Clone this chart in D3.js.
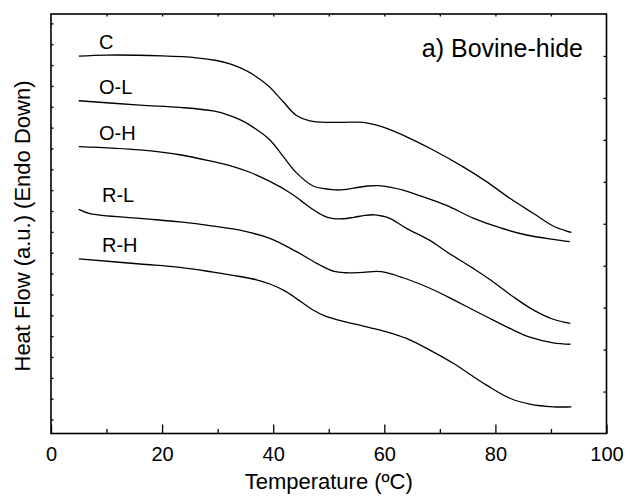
<!DOCTYPE html>
<html>
<head>
<meta charset="utf-8">
<script src="https://cdn.jsdelivr.net/npm/d3@7"></script>
<style>
body { margin: 0; background: #fff; }
text { font-family: Arial, "Liberation Sans", sans-serif; fill: #000; }
</style>
</head>
<body>
<svg id="dsc"></svg>
<script>
// DSC curves, temperature (C) vs heat flow (arbitrary units, offset per sample)
var sampleNames = ["C", "O-L", "O-H", "R-L", "R-H"];

var curveC = [[5.0,17.43],[10.0,17.48],[20.0,17.44],[26.2,17.35],[29.8,17.22],[32.2,17.06],[34.0,16.88],
  [35.8,16.64],[37.6,16.32],[39.4,15.94],[41.8,15.24],[44.2,14.58],[46.6,14.32],[50.2,14.25],[54.0,14.26],
  [56.2,14.25],[59.8,14.02],[64.0,13.56],[68.2,13.01],[74.2,12.12],[78.4,11.41],[82.6,10.61],[86.8,9.89],
  [90.4,9.28],[92.8,9.04],[93.7,8.98]];

var curveOL = [[5.0,15.29],[16.0,15.08],[23.2,14.97],[29.2,14.80],[32.2,14.58],[34.0,14.38],[35.8,14.12],
  [39.4,13.41],[41.8,12.62],[44.2,11.83],[47.2,11.20],[50.2,11.04],[52.0,11.01],[54.5,11.10],[57.0,11.20],
  [59.0,11.22],[61.0,11.15],[63.4,11.00],[67.3,10.65],[71.2,10.27],[76.0,9.66],[80.8,9.20],[85.6,8.85],
  [90.4,8.64],[93.4,8.53]];

var curveOH = [[5.0,13.09],[16.0,12.93],[23.2,12.70],[29.2,12.37],[32.2,12.18],[35.8,11.86],[39.4,11.42],
  [43.0,10.88],[45.0,10.50],[47.0,10.10],[49.0,9.78],[50.6,9.65],[52.6,9.63],[54.5,9.70],[56.5,9.79],
  [58.3,9.82],[59.8,9.75],[61.0,9.65],[64.0,9.17],[68.2,8.59],[71.2,8.05],[76.0,7.25],[79.0,6.72],
  [83.2,5.89],[86.8,5.26],[90.4,4.81],[93.5,4.61]];

var curveRL = [[5.0,10.08],[7.0,9.88],[16.0,9.65],[23.2,9.48],[29.2,9.28],[34.0,9.08],[39.4,8.69],
  [44.2,8.05],[48.4,7.41],[51.0,7.10],[53.0,7.04],[56.2,7.06],[58.6,7.11],[60.4,7.05],[63.4,6.80],
  [66.4,6.50],[69.0,6.20],[72.4,5.75],[78.4,4.93],[82.6,4.37],[86.2,3.95],[90.4,3.68],[93.5,3.61]];

var curveRH = [[5.0,7.71],[16.0,7.46],[23.2,7.30],[29.2,7.07],[34.0,6.86],[37.0,6.70],[39.4,6.50],
  [42.0,6.18],[44.2,5.80],[47.0,5.28],[49.5,4.95],[51.6,4.78],[56.2,4.48],[60.4,4.21],[64.0,3.89],
  [68.2,3.33],[72.4,2.70],[78.4,1.65],[82.6,1.02],[86.2,0.74],[90.4,0.61],[93.7,0.61]];

var xTickLabels = [0, 20, 40, 60, 80, 100];
var chartTitle = "a) Bovine-hide";

var allCurves = [curveC, curveOL, curveOH, curveRL, curveRH];

var size = {width: 630, height: 498};
var margin = {top: 14, right: 23.5, bottom: 64.5, left: 51};
var plotW = size.width - margin.left - margin.right;
var plotH = size.height - margin.top - margin.bottom;

var svg = d3.select("#dsc")
  .attr("width", size.width)
  .attr("height", size.height);

var x = d3.scaleLinear().domain([0, 100]).range([margin.left, margin.left + plotW]);
var y = d3.scaleLinear().domain([-0.67, 19.45]).range([margin.top + plotH, margin.top]);

// bottom axis: long ticks with labels every 20, short ticks every 10
svg.append("g")
  .attr("transform", "translate(0," + (margin.top + plotH) + ")")
  .call(d3.axisBottom(x).tickValues(d3.range(10, 100, 20)).tickSize(-4.5).tickSizeOuter(0).tickFormat(""))
  .call(function(g){ g.select(".domain").remove(); });

var bottomAxis = svg.append("g")
  .attr("transform", "translate(0," + (margin.top + plotH) + ")")
  .call(d3.axisBottom(x).tickValues(xTickLabels).tickSize(-9).tickSizeOuter(0).tickPadding(13))
  .call(function(g){ g.select(".domain").remove(); });
bottomAxis.selectAll("text")
  .style("font-size", "20px")
  .style("font-family", "Arial, 'Liberation Sans', sans-serif")
  .attr("dy", "0.71em");

// top axis: small inward ticks every 10
svg.append("g")
  .attr("transform", "translate(0," + margin.top + ")")
  .call(d3.axisTop(x).tickValues(d3.range(10, 100, 10)).tickSize(-2.5).tickSizeOuter(0).tickFormat(""))
  .call(function(g){ g.select(".domain").remove(); });

// left axis: small inward ticks, no labels
svg.append("g")
  .attr("transform", "translate(" + margin.left + ",0)")
  .call(d3.axisLeft(y).tickValues(d3.range(0, 20)).tickSize(-2.5).tickSizeOuter(0).tickFormat(""))
  .call(function(g){ g.select(".domain").remove(); });

// right axis: ten equal divisions
var yd = y.domain();
svg.append("g")
  .attr("transform", "translate(" + (margin.left + plotW) + ",0)")
  .call(d3.axisRight(y).tickValues(d3.range(1, 10).map(function(i){ return yd[0] + i * (yd[1] - yd[0]) / 10; }))
    .tickSize(-3).tickSizeOuter(0).tickFormat(""))
  .call(function(g){ g.select(".domain").remove(); });

svg.selectAll(".tick line").style("stroke", "#000").style("stroke-width", 1.3);

// frame
svg.append("rect")
  .attr("x", margin.left)
  .attr("y", margin.top)
  .attr("width", plotW)
  .attr("height", plotH)
  .attr("fill", "none")
  .style("stroke", "#000")
  .style("stroke-width", 1.6);

var line = d3.line()
  .x(function(d){ return x(d[0]); })
  .y(function(d){ return y(d[1]); })
  .curve(d3.curveCatmullRom.alpha(0.5));

svg.append("g").selectAll("path")
  .data(allCurves)
  .enter()
  .append("path")
  .attr("d", line)
  .attr("fill", "none")
  .style("stroke", "#000")
  .style("stroke-width", 1.3);

// sample labels just above the start of each curve
svg.append("g").selectAll("text")
  .data(allCurves)
  .enter()
  .append("text")
  .attr("x", function(d, i){ return i < 3 ? 99 : 102; })
  .attr("y", function(d){ return y(d[0][1]) - 7; })
  .style("font-size", "20px")
  .text(function(d, i){ return sampleNames[i]; });

svg.append("text")
  .attr("x", 583)
  .attr("y", 57)
  .attr("text-anchor", "end")
  .style("font-size", "25px")
  .text(chartTitle);

svg.append("text")
  .attr("x", margin.left + plotW / 2)
  .attr("y", 489)
  .attr("text-anchor", "middle")
  .style("font-size", "22px")
  .text("Temperature (\u00baC)");

svg.append("text")
  .attr("transform", "translate(30," + 226 + ") rotate(-90)")
  .attr("text-anchor", "middle")
  .style("font-size", "22px")
  .text("Heat Flow (a.u.) (Endo Down)");
</script>
</body>
</html>
